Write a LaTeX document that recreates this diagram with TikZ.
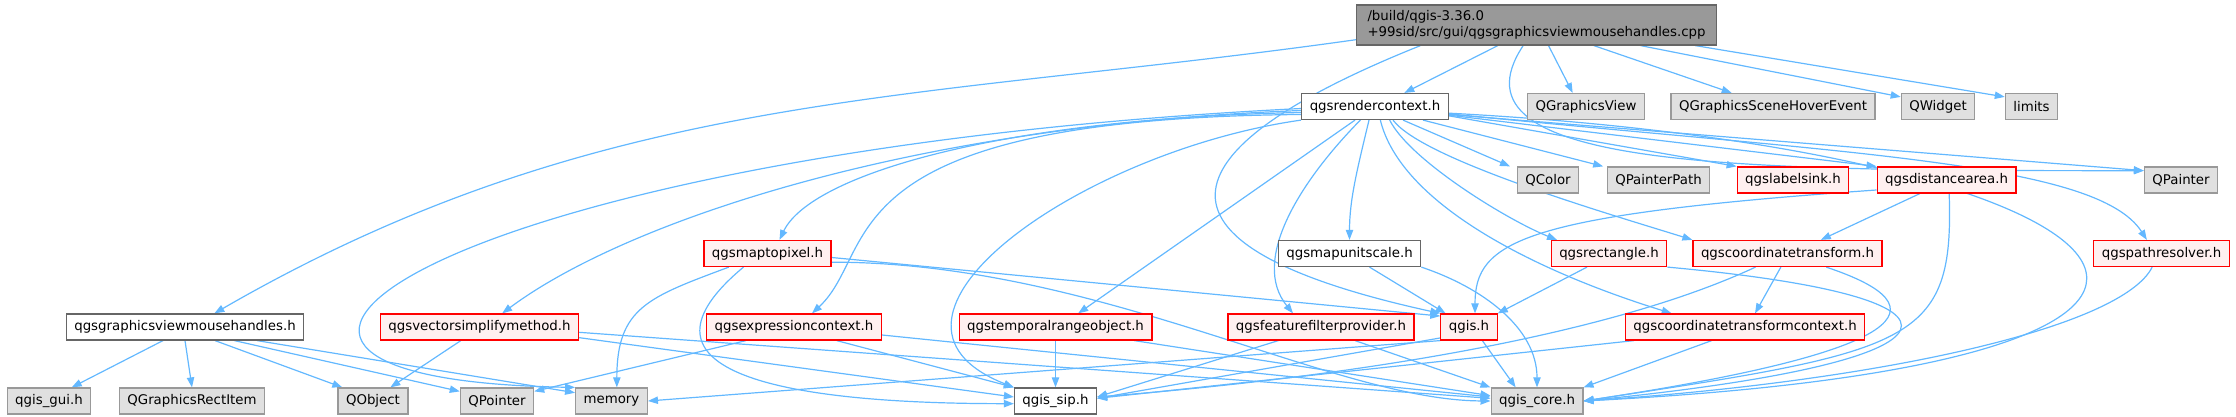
\documentclass[tikz,border=0pt]{standalone}
\usepackage{fontspec}
\setmainfont{DejaVu Sans}
\usetikzlibrary{arrows.meta,backgrounds}

\definecolor{edgeblue}{HTML}{63B8FF}
\definecolor{rootgray}{HTML}{999999}
\definecolor{boxborder}{HTML}{666666}
\definecolor{cutfill}{HTML}{FFF0F0}
\definecolor{cutborder}{HTML}{FF0000}
\definecolor{sysfill}{HTML}{E0E0E0}
\definecolor{sysborder}{HTML}{999999}

\begin{document}
\begin{tikzpicture}[x=0.75pt, y=0.75pt,
  box/.style={draw, line width=0.9pt, minimum height=19.5pt, inner xsep=6pt, inner ysep=0pt, font=\fontsize{10}{12}\selectfont},
  fileroot/.style={box, fill=rootgray, draw=boxborder, align=left, minimum height=30pt, inner xsep=8pt},
  plainfile/.style={box, fill=white, draw=boxborder},
  cutfile/.style={box, fill=cutfill, draw=cutborder},
  sysfile/.style={box, fill=sysfill, draw=sysborder},
  dep/.style={draw=edgeblue, line width=0.9pt, -{Triangle[length=7.5pt,width=5.5pt]}}]

\def\yroot{392};
\def\yone{310.5};
\def\ytwo{237};
\def\ythree{163.5};
\def\yfour{90};
\def\yfive{16};

\useasboundingbox (0,0) rectangle (2236,417);

\node [fileroot] (root) at (1536.5,\yroot) {/build/qgis-3.36.0\\+99sid/src/gui/qgsgraphicsviewmousehandles.cpp};

\node [plainfile] (rctx) at (1375,\yone) {qgsrendercontext.h};
\node [sysfile] (gview) at (1586,\yone) {QGraphicsView};
\node [sysfile] (hover) at (1773,\yone) {QGraphicsSceneHoverEvent};
\node [sysfile] (qwidget) at (1938,\yone) {QWidget};
\node [sysfile] (limits) at (2031.5,\yone) {limits};

\node [sysfile] (qcolor) at (1548,\ytwo) {QColor};
\node [sysfile] (ppath) at (1658.5,\ytwo) {QPainterPath};
\node [cutfile] (lsink) at (1793,\ytwo) {qgslabelsink.h};
\node [cutfile] (darea) at (1946.5,\ytwo) {qgsdistancearea.h};
\node [sysfile] (qpainter) at (2181,\ytwo) {QPainter};

\node [cutfile] (m2p) at (767.5,\ythree) {qgsmaptopixel.h};
\node [plainfile] (unitsc) at (1349.5,\ythree) {qgsmapunitscale.h};
\node [cutfile] (rect) at (1609,\ythree) {qgsrectangle.h};
\node [cutfile] (ctrans) at (1787.5,\ythree) {qgscoordinatetransform.h};
\node [cutfile] (presolv) at (2161.5,\ythree) {qgspathresolver.h};

\node [plainfile] (mhand) at (185,\yfour) {qgsgraphicsviewmousehandles.h};
\node [cutfile] (vsimp) at (479.5,\yfour) {qgsvectorsimplifymethod.h};
\node [cutfile] (exprc) at (794,\yfour) {qgsexpressioncontext.h};
\node [cutfile] (trange) at (1055.5,\yfour) {qgstemporalrangeobject.h};
\node [cutfile] (ffprov) at (1321,\yfour) {qgsfeaturefilterprovider.h};
\node [cutfile] (qgish) at (1469,\yfour) {qgis.h};
\node [cutfile] (ctctx) at (1745,\yfour) {qgscoordinatetransformcontext.h};

\node [sysfile] (guih) at (49,\yfive) {qgis\_gui.h};
\node [sysfile] (gritem) at (192,\yfive) {QGraphicsRectItem};
\node [sysfile] (qobject) at (373,\yfive) {QObject};
\node [sysfile] (qpointer) at (497,\yfive) {QPointer};
\node [sysfile] (memory) at (611.5,\yfive) {memory};
\node [plainfile] (siph) at (1055.5,\yfive) {qgis\_sip.h};
\node [sysfile] (coreh) at (1537,\yfive) {qgis\_core.h};

\begin{pgfonlayer}{background}
\draw [dep] ([yshift=-11pt]root.west) .. controls +(-446,-63) and +(390,225) .. ([xshift=22pt]mhand.north);
\draw [dep] ([xshift=-87pt]root.south) .. controls +(-250,-100) and +(-320,70) .. (qgish.north west);
\draw [dep] ([xshift=-29pt]root.south) -- ([xshift=22pt]rctx.north);
\draw [dep] ([xshift=9pt]root.south) -- ([xshift=-10pt]gview.north);
\draw [dep] ([xshift=43pt]root.south) -- ([xshift=-31pt]hover.north);
\draw [dep] ([xshift=78pt]root.south) -- ([yshift=-3pt]qwidget.north west);
\draw [dep] ([xshift=119pt]root.south) -- ([yshift=-3pt]limits.north west);
\draw [dep] ([xshift=-10pt]root.south) .. controls +(-83,-125) and +(-400,0) .. ([yshift=7pt]qpainter.west);

\draw [dep] ([yshift=-1.5pt]rctx.west) .. controls +(-851,-42) and +(-473,8) .. (memory.north west);
\draw [dep] ([yshift=-3pt]rctx.west) .. controls +(-401,-15) and +(118,88) .. ([xshift=17pt]vsimp.north);
\draw [dep] ([yshift=-4.5pt]rctx.west) .. controls +(-301,-6) and +(31,65) .. ([xshift=9pt]m2p.north);
\draw [dep] ([yshift=-6pt]rctx.west) .. controls +(-481,-4) and +(68,63) .. ([xshift=13.5pt]exprc.north);
\draw [dep] (rctx.south west) .. controls +(-220,-31) and +(-172,68) .. (siph.north west);
\draw [dep] ([xshift=-15pt]rctx.south) -- ([xshift=17pt]trange.north);
\draw [dep] ([xshift=-11pt]rctx.south) .. controls +(-60,-61) and +(-43,53) .. ([xshift=-21pt]ffprov.north);
\draw [dep] ([xshift=-4.5pt]rctx.south) .. controls +(-12,-50) and +(0,40) .. (unitsc.north);
\draw [dep] ([xshift=21pt]rctx.south) -- ([xshift=-28.5pt]qcolor.north);
\draw [dep] ([xshift=36pt]rctx.south) -- ([xshift=-41.5pt]ppath.north);
\draw [dep] ([yshift=-7pt]rctx.east) -- (lsink.north west);
\draw [dep] ([yshift=-6.5pt]rctx.east) -- (darea.north west);
\draw [dep] ([yshift=-6pt]rctx.east) -- ([yshift=7pt]qpainter.west);
\draw [dep] ([yshift=-5.5pt]rctx.east) .. controls +(400,-40) and +(-50,78) .. ([xshift=-11pt]presolv.north);
\draw [dep] ([yshift=-5pt]rctx.east) .. controls +(700,-37) and +(795,41) .. (coreh.east);
\draw [dep] ([xshift=11pt]rctx.south) .. controls +(20,-40) and +(-50,20) .. ([xshift=-39pt]rect.north);
\draw [dep] ([xshift=13.5pt]rctx.south) .. controls +(30,-40) and +(-80,25) .. (ctrans.north west);
\draw [dep] ([xshift=4pt]rctx.south) .. controls +(20,-82) and +(-142,44) .. ([xshift=-55pt]ctctx.north);

\draw [dep] ([xshift=-16.5pt]mhand.south) -- ([xshift=17pt]guih.north);
\draw [dep] (mhand.south) -- (gritem.north);
\draw [dep] ([xshift=22.5pt]mhand.south) -- ([xshift=-23pt]qobject.north);
\draw [dep] ([xshift=37pt]mhand.south) -- ([yshift=-3pt]qpointer.north west);
\draw [dep] ([xshift=54pt]mhand.south) -- ([yshift=-4pt]memory.north west);

\draw [dep] ([xshift=-14pt]vsimp.south) -- ([xshift=13pt]qobject.north);
\draw [dep] ([yshift=-8pt]vsimp.east) -- ([yshift=3pt]siph.west);
\draw [dep] ([yshift=-4pt]vsimp.east) -- ([yshift=2pt]coreh.west);

\draw [dep] ([yshift=-3pt]m2p.east) -- ([yshift=-2pt]qgish.north west);
\draw [dep] ([yshift=-6.5pt]m2p.east) .. controls +(267,0) and +(-159,1) .. (coreh.west);
\draw [dep] ([xshift=-29pt]m2p.south) .. controls +(-80,-30) and +(0,80) .. ([xshift=4pt]memory.north);
\draw [dep] ([xshift=-18pt]m2p.south) .. controls +(-120,-100) and +(-250,0) .. ([yshift=-2pt]siph.west);

\draw [dep] ([xshift=-36pt]exprc.south) -- ([yshift=-3pt]qpointer.north east);
\draw [dep] ([xshift=32pt]exprc.south) -- (siph.north west);
\draw [dep] ([yshift=-6pt]exprc.east) -- ([yshift=3pt]coreh.west);

\draw [dep] (trange.south) -- (siph.north);
\draw [dep] ([xshift=59pt]trange.south) -- ([yshift=4pt]coreh.west);

\draw [dep] ([xshift=-32pt]ffprov.south) -- ([yshift=3pt]siph.east);
\draw [dep] ([xshift=25.5pt]ffprov.south) -- (coreh.north west);

\draw [dep] ([xshift=15pt]unitsc.south) -- ([xshift=4pt]qgish.north west);
\draw [dep] (unitsc.south east) .. controls +(60,-20) and +(0,60) .. (coreh.north);

\draw [dep] ([yshift=2pt]qgish.south west) -- ([yshift=2pt]siph.east);
\draw [dep] (qgish.south west) -- (memory.east);
\draw [dep] ([xshift=10pt]qgish.south) -- ([xshift=-16pt]coreh.north);

\draw [dep] ([xshift=-16.5pt]rect.south) -- (qgish.north east);
\draw [dep] (rect.south east) .. controls +(330,-30) and +(400,40) .. (coreh.east);

\draw [dep] ([xshift=-24pt]ctrans.south) .. controls +(-150,-70) and +(250,20) .. ([yshift=3pt]siph.east);
\draw [dep] ([xshift=-5pt]ctrans.south) -- ([xshift=7.5pt]ctctx.north);
\draw [dep] ([xshift=29pt]ctrans.south) .. controls +(120,-40) and +(330,50) .. (coreh.east);

\draw [dep] ([yshift=-7.5pt]darea.west) .. controls +(-356,-25) and +(0,72) .. ([xshift=4.5pt]qgish.north);
\draw [dep] ([xshift=-20pt]darea.south) -- ([xshift=25pt]ctrans.north);
\draw [dep] ([xshift=2pt]darea.south) .. controls +(5,-150) and +(330,50) .. (coreh.east);

\draw [dep] ([xshift=7pt]ctctx.south west) -- ([yshift=2pt]siph.east);
\draw [dep] ([xshift=-25pt]ctctx.south) -- (coreh.north east);

\draw [dep] ([xshift=-7pt]presolv.south) .. controls +(-30,-60) and +(300,20) .. (coreh.east);
\end{pgfonlayer}

\end{tikzpicture}
\end{document}
